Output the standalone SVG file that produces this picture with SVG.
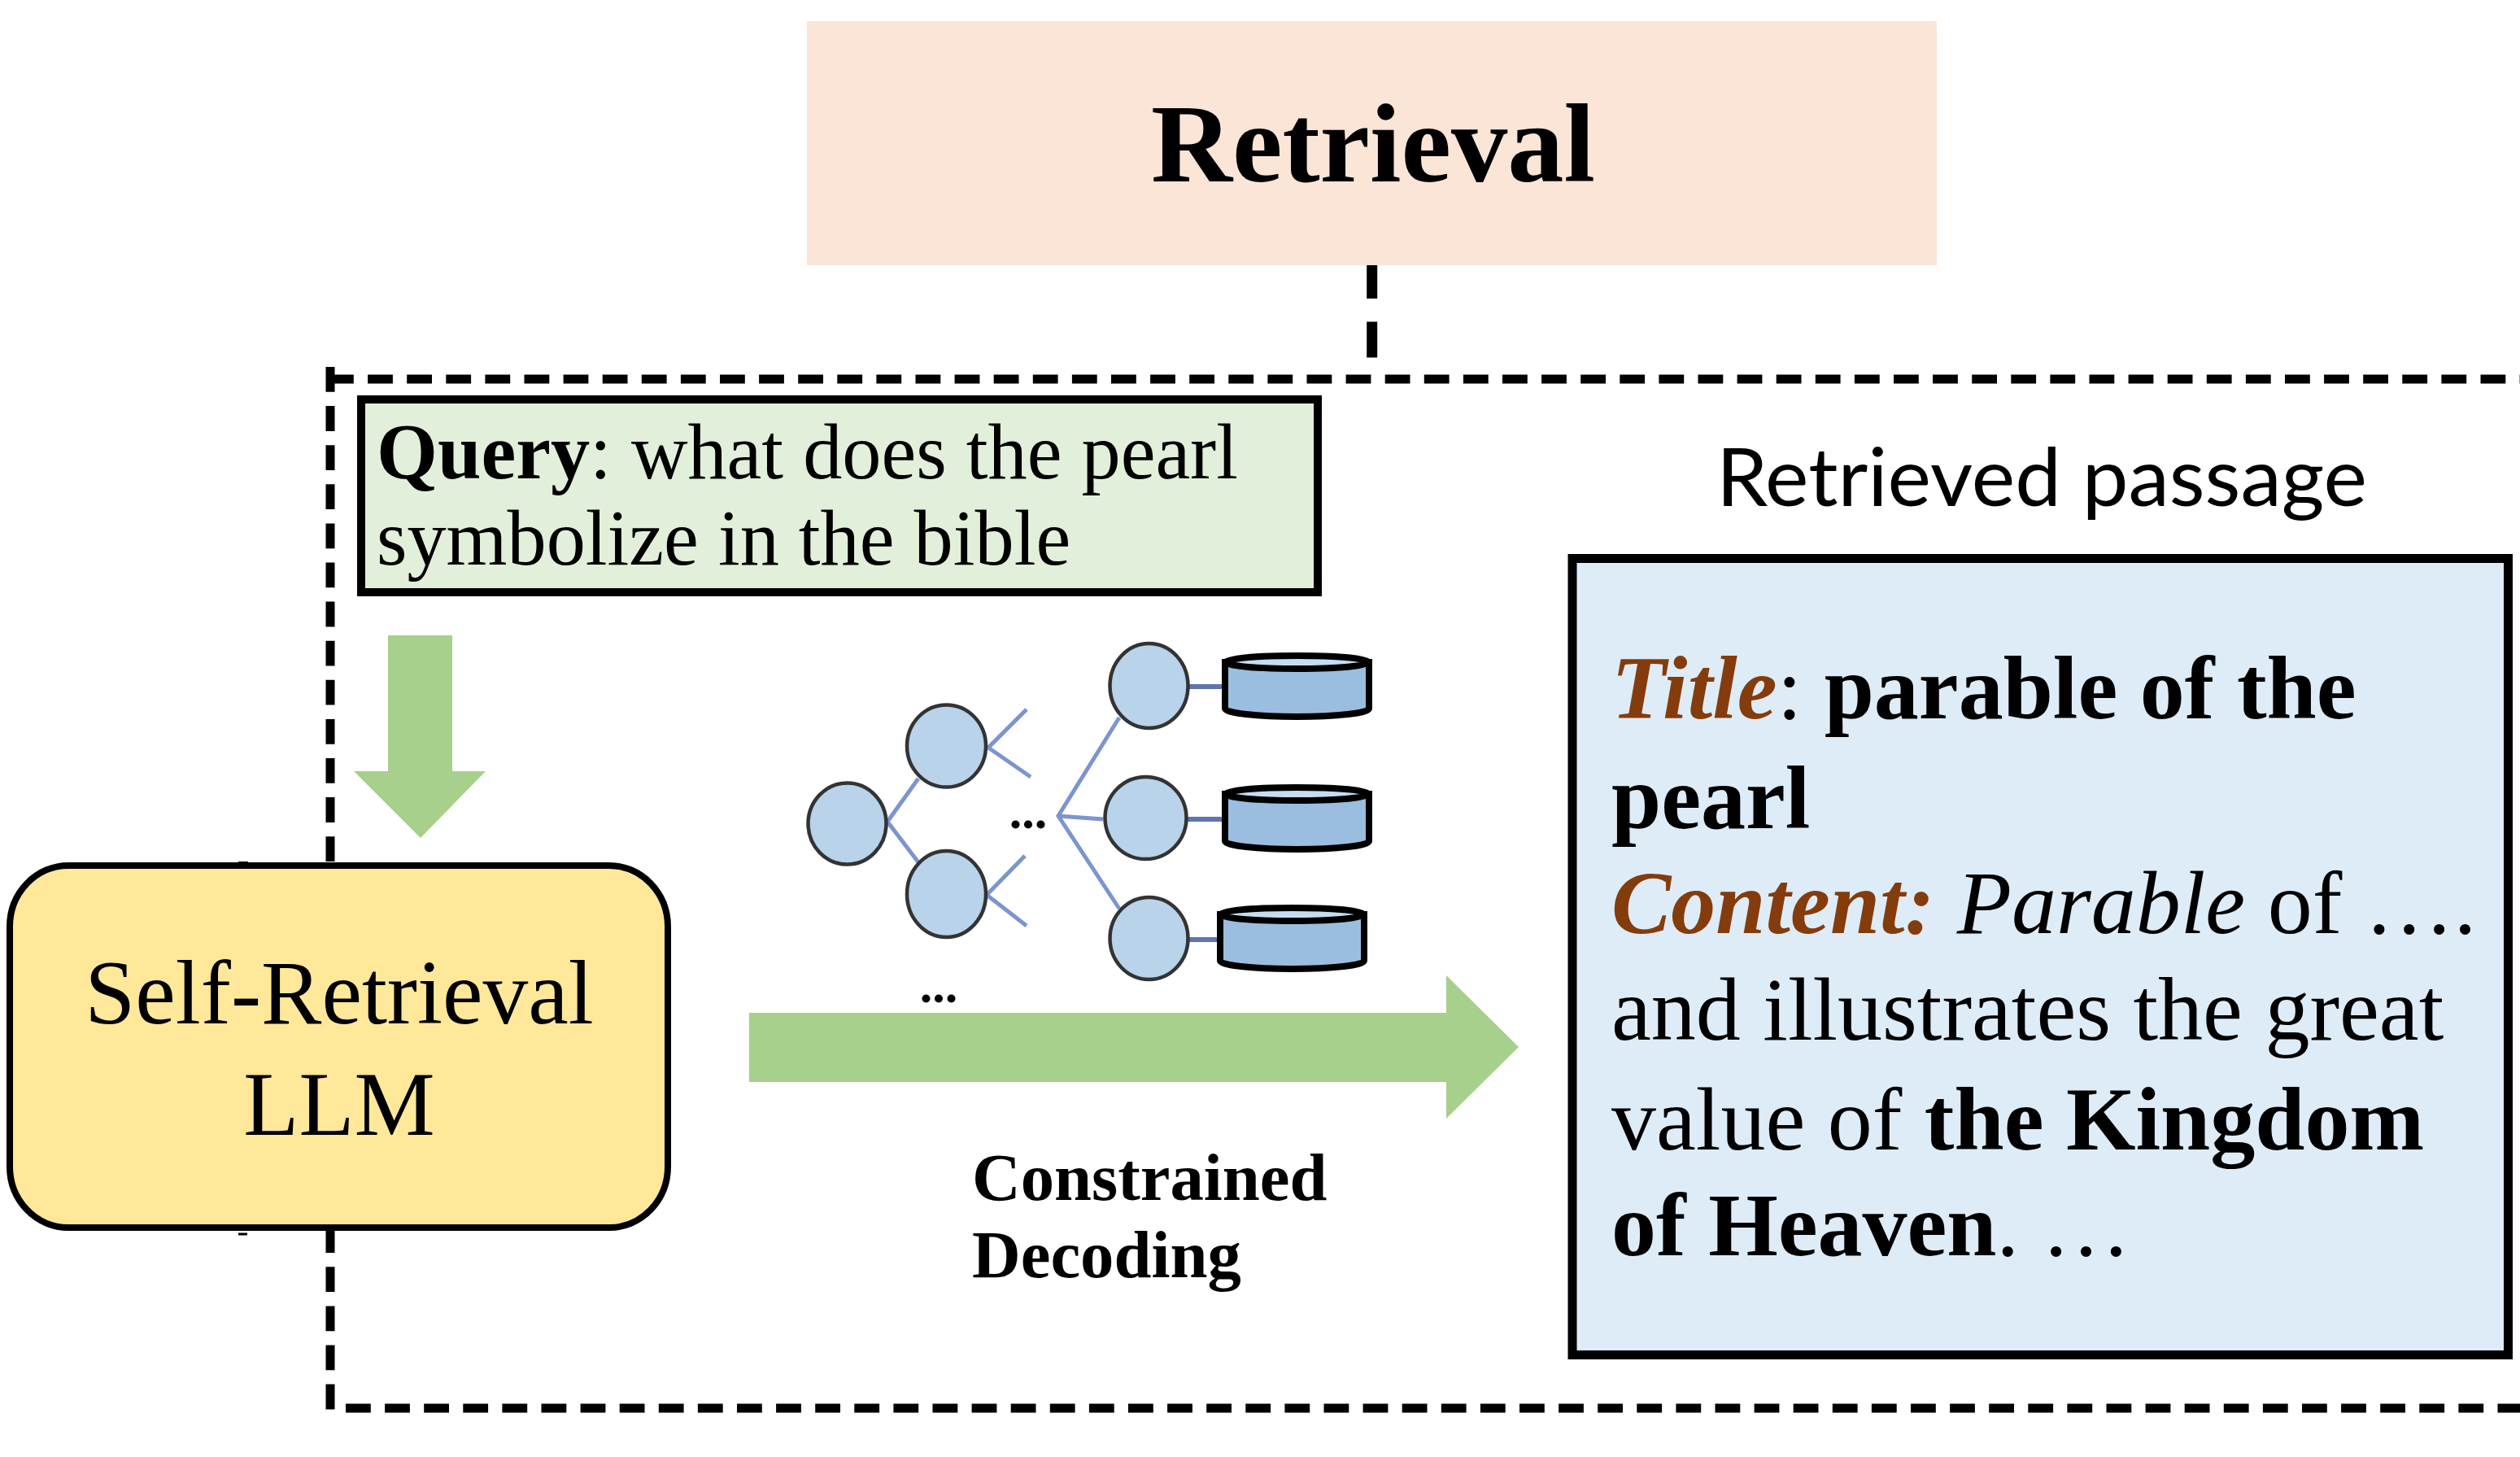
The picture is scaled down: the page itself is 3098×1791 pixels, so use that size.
<svg xmlns="http://www.w3.org/2000/svg" width="3098" height="1791" viewBox="0 0 3098 1791">
<style>
.t{font-family:"Liberation Serif","Times New Roman",serif;fill:#000}
.b{font-weight:700}.i{font-style:italic}
.c{fill:#843C0C}
.d{fill:none;stroke:#000;stroke-width:11;stroke-dasharray:30.8 17.3}
.n{fill:#B8D3EA;stroke:#333;stroke-width:4.5}
.l{stroke:#7C95CF;stroke-width:5;fill:none}
.k{stroke:#5F74B0;stroke-width:6;fill:none}
.cyl{fill:#9BBEE0;stroke:#000;stroke-width:8}
.top{fill:#C5DDF2;stroke:#000;stroke-width:8}
.a{fill:#A6D08B}
</style>
<rect width="3098" height="1791" fill="#fff"/>
<g id="connectors">
<path d="M1686.7 323V440" fill="none" stroke="#000" stroke-width="13" stroke-dasharray="44 28.5"/>
<path class="d" d="M404 466H3098"/>
<path class="d" d="M406 451V1736"/>
<path class="d" d="M425 1731H3098"/>
<path d="M293 1060.500h12M293 1517h11" stroke="#000" stroke-width="3" fill="none"/>
<path class="a" d="M477 781H556V948H597L517 1030L435 948H477Z"/>
<path class="a" d="M921 1245H1778V1199L1867 1287L1778 1375V1330H921Z"/>
<path class="l" d="M1129 957L1091 1010L1129 1060M1262 872L1215 919L1267 955M1260 1052L1213 1100L1262 1138M1376 882L1301 1003L1376 1117M1301 1003L1356 1007"/>
<path class="k" d="M1462 844H1504M1460 1007H1504M1462 1155H1498"/>
</g>
<g id="retrieval">
<rect x="992" y="26" width="1389" height="300" fill="#FAE5D6"/>
<text class="t b" x="1688" y="223" font-size="138.500" text-anchor="middle">Retrieval</text>
</g>
<g id="query">
<rect x="444" y="491" width="1176" height="237" fill="#E2EFDA" stroke="#000" stroke-width="10"/>
<text class="t" x="463" y="588" font-size="96.3"><tspan class="b">Query</tspan>: what does the pearl</text>
<text class="t" x="463" y="694" font-size="96.3">symbolize in the bible</text>
</g>
<g id="llm">
<rect x="12" y="1064" width="809" height="445" rx="72" ry="75" fill="#FFE89A" stroke="#000" stroke-width="8"/>
<text class="t" x="417" y="1258" font-size="111.500" text-anchor="middle">Self-Retrieval</text>
<text class="t" x="417" y="1395" font-size="111.500" text-anchor="middle">LLM</text>
</g>
<g id="tree">
<ellipse class="n" cx="1041.500" cy="1012.500" rx="48" ry="50"/>
<ellipse class="n" cx="1163.500" cy="917" rx="48.500" ry="50.500"/>
<ellipse class="n" cx="1163.500" cy="1099" rx="48.500" ry="53"/>
<ellipse class="n" cx="1412.500" cy="843" rx="48" ry="52"/>
<ellipse class="n" cx="1408.500" cy="1005.500" rx="50" ry="50.500"/>
<ellipse class="n" cx="1412.500" cy="1153.500" rx="48" ry="50.500"/>
<text class="t b" x="1264" y="1018" font-size="62" text-anchor="middle">...</text>
<text class="t b" x="1154" y="1232" font-size="62" text-anchor="middle">...</text>
</g>
<g id="db1"><path class="cyl" d="M1506 814V871A88.500 10 0 0 0 1683 871V814Z"/><ellipse class="top" cx="1594.500" cy="814" rx="88.500" ry="8"/></g>
<g id="db2"><path class="cyl" d="M1506 976V1034A88.500 10 0 0 0 1683 1034V976Z"/><ellipse class="top" cx="1594.500" cy="976" rx="88.500" ry="8"/></g>
<g id="db3"><path class="cyl" d="M1500 1124V1181A88.500 10 0 0 0 1677 1181V1124Z"/><ellipse class="top" cx="1588.500" cy="1124" rx="88.500" ry="8"/></g>
<g id="decoding">
<text class="t b" x="1195" y="1475" font-size="82.700">Constrained</text>
<text class="t b" x="1195" y="1570" font-size="82.700">Decoding</text>
</g>
<g id="passage-label">
<text x="2510" y="622" font-family="Lato,'Open Sans',sans-serif" font-size="98" text-anchor="middle" textLength="800" lengthAdjust="spacingAndGlyphs">Retrieved passage</text>
</g>
<g id="passage">
<rect x="1933" y="686.500" width="1150.500" height="979" fill="#DEECF7" stroke="#000" stroke-width="11"/>
<text class="t" x="1981" y="883" font-size="110"><tspan class="c i b">Title</tspan>: <tspan class="b">parable of the</tspan></text>
<text class="t b" x="1981" y="1018" font-size="110">pearl</text>
<text class="t" x="1981" y="1147" font-size="110"><tspan class="c i b">Content:</tspan> <tspan class="i">Parable</tspan> of ….</text>
<text class="t" x="1981" y="1278" font-size="110">and illustrates the great</text>
<text class="t" x="1981" y="1413" font-size="110">value of <tspan class="b">the Kingdom</tspan></text>
<text class="t" x="1981" y="1543" font-size="110"><tspan class="b">of Heaven</tspan>. …</text>
</g>
</svg>
